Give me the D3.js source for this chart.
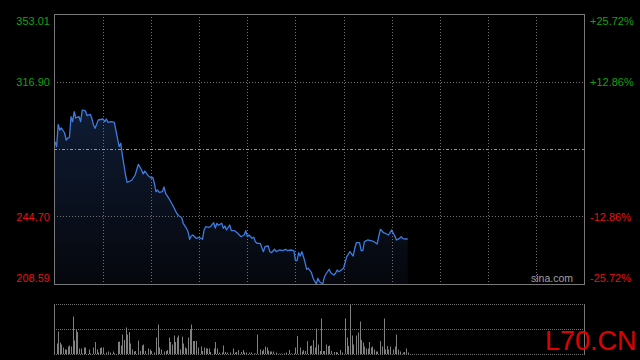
<!DOCTYPE html>
<html>
<head>
<meta charset="utf-8">
<script src="https://cdn.jsdelivr.net/npm/d3@7/dist/d3.min.js"></script>
<style>
html,body{margin:0;padding:0;background:#000;}
svg{display:block;}
</style>
</head>
<body>
<svg id="c" width="640" height="360"></svg>
<script>
// ---- data ----
const prevClose = 280.80;
const priceTicks = [353.01, 316.90, 280.80, 244.70, 208.59];
const pctLabels = ["+25.72%", "+12.86%", "", "-12.86%", "-25.72%"];
const priceLabels = ["353.01", "316.90", "", "244.70", "208.59"];
const totalMinutes = 330; // HK session 09:30-12:00, 13:00-16:00
const gridMinutes = [30,60,90,120,150,180,210,240,270,300];

const minutes = [0,1,2,3,4,6,7,8,9,10,11,12,13,15,16,17,19,20,22,23,24,25,27,30,31,32,33,35,37,39,40,41,42,43,44,45,47,48,50,52,54,55,56,58,60,61,62,63,64,65,67,68,69,71,73,74,76,77,79,80,82,83,84,85,86,88,90,92,93,94,96,97,99,100,101,102,104,105,106,107,109,110,112,114,116,118,119,120,121,123,124,125,126,128,130,131,133,134,135,137,138,140,142,144,145,147,149,150,151,152,153,154,155,156,157,158,160,161,163,164,165,167,168,169,171,172,174,175,176,177,178,180,181,182,184,185,186,187,188,190,191,192,193,195,197,199,201,202,203,205,206,208,209,210,212,213,215,216,217,219,220];
const prices = [284.70,282.03,294.01,290.96,292.03,289.36,285.61,286.68,286.95,298.08,295.40,300.75,297.38,298.08,295.40,301.66,301.13,298.61,299.36,297.22,293.64,291.87,296.31,296.85,295.40,296.85,295.08,295.40,295.08,286.52,282.03,283.85,277.59,272.24,266.89,262.99,263.68,264.22,266.89,272.62,269.57,267.43,269.03,266.63,265.29,265.66,262.45,257.96,258.87,257.64,257.96,260.47,257.10,254.43,251.38,249.78,246.30,245.23,244.16,241.06,238.38,236.56,232.50,234.26,234.80,233.03,233.57,232.50,237.47,239.24,238.92,239.24,241.38,238.54,241.06,239.99,241.06,238.38,239.61,237.47,240.15,237.10,237.10,235.71,233.89,234.80,237.10,233.89,234.80,233.03,233.57,231.22,230.36,230.36,225.87,228.54,228.92,225.87,225.33,227.15,225.87,226.78,226.40,227.15,226.40,226.78,226.40,221.05,221.05,225.33,223.57,225.87,223.19,219.98,216.45,216.99,214.63,211.64,208.59,211.64,209.82,208.59,212.17,213.94,216.45,214.63,213.40,214.31,216.08,215.17,215.70,216.99,219.98,223.19,225.87,224.64,223.57,227.69,230.68,230.68,226.40,226.40,231.22,232.12,231.75,231.22,229.99,234.26,237.85,236.03,235.71,234.80,236.03,237.47,234.26,232.12,233.03,233.89,232.82,232.66,232.66];

const volMinutes = [1,2,3,4,5,6,7,8,9,10,11,12,13,14,15,16,17,18,19,21,22,24,25,26,27,28,29,30,32,33,34,36,37,39,40,41,42,43,44,45,46,47,48,49,50,52,53,54,55,56,58,59,60,62,63,64,65,66,68,69,70,71,72,73,74,75,76,77,78,79,80,81,82,83,84,85,86,87,88,89,91,92,93,94,95,96,97,99,100,101,102,104,105,106,107,109,111,112,113,114,116,117,118,119,121,122,124,125,126,128,129,130,131,132,133,134,135,136,138,140,141,143,144,146,147,149,150,151,153,154,155,156,157,159,160,161,162,163,164,165,166,167,168,169,170,171,172,174,175,176,178,179,181,182,183,184,185,186,188,189,190,191,192,193,194,195,196,197,198,199,200,201,203,204,205,206,207,208,209,211,212,213,214,215,217,218,219,220];
const volumes = [21,45,23,19,13,9,9,15,17,15,75,27,49,44,11,11,1,13,13,9,1,13,24,9,3,12,13,13,3,5,3,5,1,24,25,17,39,28,53,39,44,21,9,5,6,27,6,17,19,6,11,9,6,3,33,59,13,9,5,6,8,33,24,19,37,24,33,37,9,35,21,13,11,33,49,59,26,26,26,13,15,6,13,11,11,11,4,11,24,11,3,3,17,4,3,3,11,3,4,8,4,8,3,3,3,3,1,1,39,9,6,9,15,13,7,5,5,5,3,1,1,1,3,8,1,1,13,36,13,5,8,6,26,16,17,28,13,51,19,6,71,6,6,19,16,17,6,4,4,3,8,3,71,33,16,99,37,19,37,43,65,28,23,15,11,11,24,13,15,9,5,5,26,15,71,9,16,9,15,9,15,39,9,5,3,4,11,3];
const volMax = 100;

// ---- layout ----
const svg = d3.select("#c");
const L = 54, R = 584, T = 14, B = 284;
const VT = 304, VB = 354;
const font = "'Liberation Sans', Arial, Helvetica, sans-serif";
const green = "#14a014", red = "#e01414";

const x = d3.scaleLinear().domain([0, totalMinutes]).range([55, 584]);
const y = d3.scaleLinear().domain([priceTicks[4], priceTicks[0]]).range([B, T]);
const yv = d3.scaleLinear().domain([0, volMax]).range([VB, VT]);

svg.append("rect").attr("width", 640).attr("height", 360).attr("fill", "#000");

// gradient fill
const defs = svg.append("defs");
const grad = defs.append("linearGradient").attr("id", "g").attr("gradientUnits", "userSpaceOnUse")
  .attr("x1", 0).attr("x2", 0).attr("y1", 105).attr("y2", B);
grad.append("stop").attr("offset", 0).attr("stop-color", "#0f1c34");
grad.append("stop").attr("offset", 1).attr("stop-color", "#05070c");

const pts = minutes.map((m, i) => [m, prices[i]]);

svg.append("path").datum(pts)
  .attr("d", d3.area().x(d => x(d[0])).y0(B).y1(d => y(d[1])))
  .attr("fill", "url(#g)");

// vertical grid
const gridColor = "#707070";
svg.append("g").selectAll("line").data(gridMinutes).join("line")
  .attr("x1", d => Math.round(x(d)) + 0.5).attr("x2", d => Math.round(x(d)) + 0.5)
  .attr("y1", T).attr("y2", B)
  .attr("stroke", gridColor).attr("stroke-dasharray", "1,2");

// horizontal grid
svg.append("g").selectAll("line").data([priceTicks[1], priceTicks[3]]).join("line")
  .attr("x1", L).attr("x2", R)
  .attr("y1", d => Math.round(y(d)) + 0.5).attr("y2", d => Math.round(y(d)) + 0.5)
  .attr("stroke", gridColor).attr("stroke-dasharray", "1,2");

// prev close line
svg.append("line")
  .attr("x1", L).attr("x2", R)
  .attr("y1", Math.round(y(prevClose)) + 0.5).attr("y2", Math.round(y(prevClose)) + 0.5)
  .attr("stroke", "#9a9a9a").attr("stroke-dasharray", "3,2,1,2");

// price line
svg.append("path").datum(pts)
  .attr("d", d3.line().x(d => x(d[0])).y(d => y(d[1])))
  .attr("fill", "none").attr("stroke", "#3d7ce0").attr("stroke-width", 1.3)
  .attr("stroke-linejoin", "round");

// frame
svg.append("rect").attr("x", L + 0.5).attr("y", T + 0.5).attr("width", R - L).attr("height", B - T)
  .attr("fill", "none").attr("stroke", "#787878");

// labels
const baseOff = [10.5, 4.5, 0, 4.5, -2];
priceTicks.forEach((p, i) => {
  if (!priceLabels[i]) return;
  const col = p > prevClose ? green : red;
  const yy = y(p) + baseOff[i];
  svg.append("text").attr("x", 50).attr("y", yy).attr("text-anchor", "end")
    .attr("font-family", font).attr("font-size", 11).attr("fill", col).text(priceLabels[i]);
  svg.append("text").attr("x", 590).attr("y", yy).attr("text-anchor", "start")
    .attr("font-family", font).attr("font-size", 11).attr("fill", col).text(pctLabels[i]);
});

svg.append("text").attr("x", 573).attr("y", 282).attr("text-anchor", "end")
  .attr("font-family", font).attr("font-size", 10.5).attr("fill", "#a0a0a0").text("sina.com");

// volume panel
[VT, (VT + VB) / 2, VB].forEach(v => {
  svg.append("line").attr("x1", L).attr("x2", R + 1)
    .attr("y1", Math.round(v) + 0.5).attr("y2", Math.round(v) + 0.5)
    .attr("stroke", gridColor).attr("stroke-dasharray", "1,1");
});
[L, R].forEach(xx => {
  svg.append("line").attr("x1", xx + 0.5).attr("x2", xx + 0.5).attr("y1", VT).attr("y2", VB + 1)
    .attr("stroke", "#787878");
});

svg.append("g").selectAll("rect").data(volMinutes.map((m, i) => [m, volumes[i]])).join("rect")
  .attr("x", d => Math.round(x(d[0])))
  .attr("width", 1)
  .attr("y", d => yv(d[1]))
  .attr("height", d => VB - yv(d[1]))
  .attr("fill", "#808080");

// watermark
svg.append("text").attr("x", 545).attr("y", 350)
  .attr("font-family", font).attr("font-size", 27).attr("fill", "#e00000").text("L70.CN");
</script>
</body>
</html>
